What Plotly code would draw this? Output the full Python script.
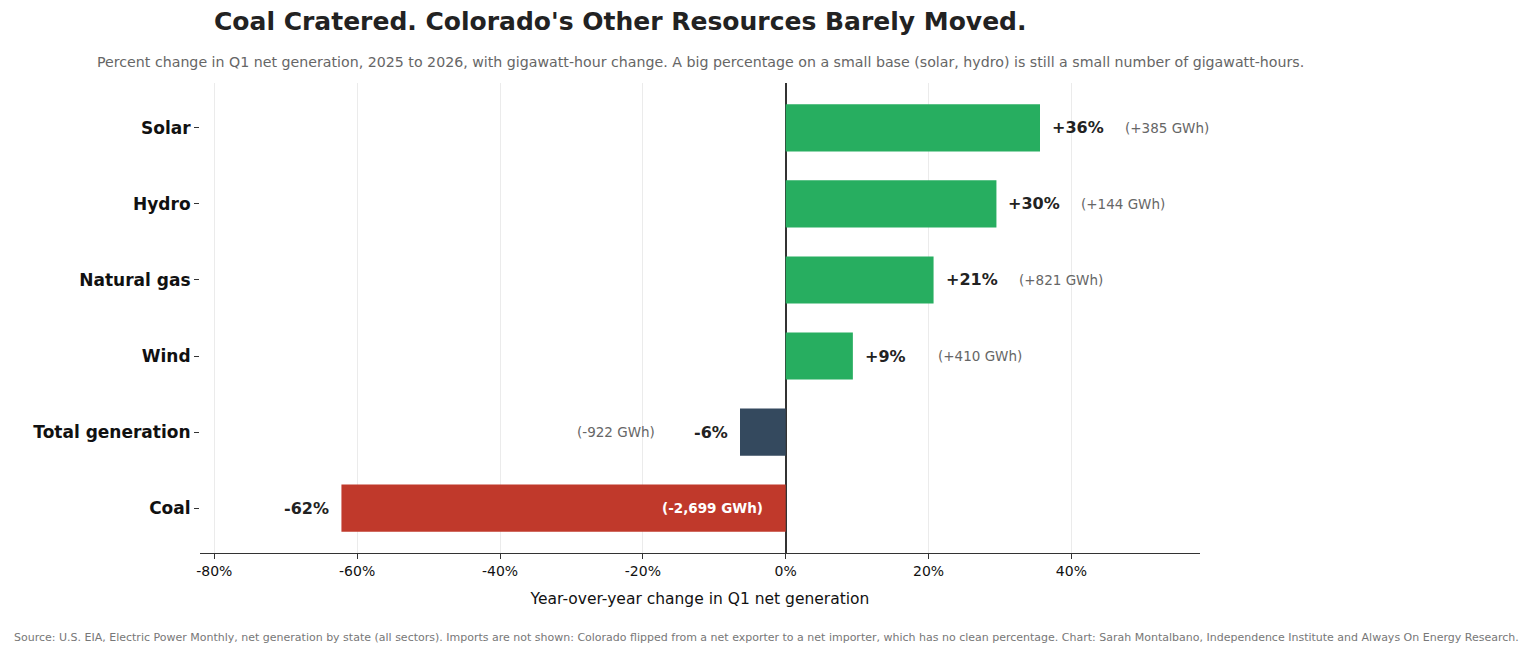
import plotly.graph_objects as go

categories = ["Coal", "Total generation", "Wind", "Natural gas", "Hydro", "Solar"]
pct_change = [-62.2, -6.4, 9.4, 20.7, 29.5, 35.6]
gwh_change = [-2699, -922, 410, 821, 144, 385]
pct_labels = ["-62%", "-6%", "+9%", "+21%", "+30%", "+36%"]
gwh_labels = ["(-2,699 GWh)", "(-922 GWh)", "(+410 GWh)", "(+821 GWh)", "(+144 GWh)", "(+385 GWh)"]
colors = ["#c0392b", "#34495e", "#27ae60", "#27ae60", "#27ae60", "#27ae60"]
tick_vals = [-80, -60, -40, -20, 0, 20, 40]
tick_text = ["-80%", "-60%", "-40%", "-20%", "0%", "20%", "40%"]

fig = go.Figure(go.Bar(y=categories, x=pct_change, orientation="h",
                       marker=dict(color=colors, line=dict(width=0)), width=0.62,
                       hoverinfo="skip"))

ann = []
for c, p, pl, gl in zip(categories, pct_change, pct_labels, gwh_labels):
    pos = p > 0
    ann.append(dict(x=p, y=c, text=f"<b>{pl}</b>", showarrow=False,
                    xanchor="left" if pos else "right", xshift=10 if pos else -10,
                    font=dict(size=16, color="#222")))
    if c == "Coal":
        ann.append(dict(x=0, y=c, text=f"<b>{gl}</b>", showarrow=False, xanchor="right",
                        xshift=-21, font=dict(size=13.5, color="white")))
    else:
        ann.append(dict(x=p, y=c, text=gl, showarrow=False,
                        xanchor="left" if pos else "right", xshift=83 if pos else -83,
                        font=dict(size=13.5, color="#666")))

L, T = 192, 75
def px(x):
    return (x - L) / 1000
def py(y):
    return (T + 470 - y) / 470

ann += [
    dict(xref="paper", yref="paper", x=px(612), y=py(14),
         text="<b>Coal Cratered. Colorado's Other Resources Barely Moved.</b>", showarrow=False,
         xanchor="center", yanchor="middle", font=dict(size=25, color="#222")),
    dict(xref="paper", yref="paper", x=px(692), y=py(54),
         text="Percent change in Q1 net generation, 2025 to 2026, with gigawatt-hour change. A big percentage on a small base (solar, hydro) is still a small number of gigawatt-hours.",
         showarrow=False, xanchor="center", yanchor="middle", font=dict(size=14.2, color="#666")),
    dict(xref="paper", yref="paper", x=px(758), y=py(629),
         text="Source: U.S. EIA, Electric Power Monthly, net generation by state (all sectors). Imports are not shown: Colorado flipped from a net exporter to a net importer, which has no clean percentage. Chart: Sarah Montalbano, Independence Institute and Always On Energy Research.",
         showarrow=False, xanchor="center", yanchor="middle", font=dict(size=11, color="#777")),
]

fig.update_layout(
    width=1533, height=655, margin=dict(l=L, r=1533 - L - 1000, t=T, b=655 - T - 470),
    plot_bgcolor="white", paper_bgcolor="white", showlegend=False,
    font=dict(family="DejaVu Sans", color="#222"),
    annotations=ann,
    xaxis=dict(range=[-82, 58], tickvals=tick_vals, ticktext=tick_text,
               tickfont=dict(size=14, color="#111"), showgrid=True, gridcolor="#ebebeb",
               zeroline=True, zerolinecolor="#333", zerolinewidth=1.5,
               showline=True, linecolor="#333", ticks="outside", ticklen=5, tickcolor="#333",
               title=dict(text="Year-over-year change in Q1 net generation", font=dict(size=15.5, color="#111"))),
    yaxis=dict(range=[-0.59, 5.59], categoryorder="array", categoryarray=categories,
               tickfont=dict(size=17, color="#111", weight="bold"), ticks="outside", ticklen=5,
               tickcolor="#333", showgrid=False, showline=False),
)
fig.write_html("out.html")
